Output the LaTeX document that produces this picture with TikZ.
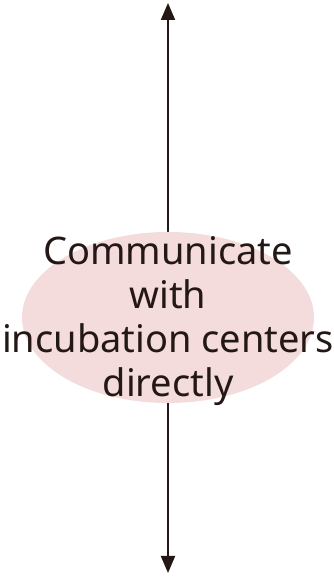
\documentclass[tikz,border=0pt]{standalone}
\usepackage{fontspec}
\setmainfont{Noto Sans}
\usepackage{tikz}
\usetikzlibrary{arrows.meta,shapes.geometric}
\definecolor{darkbrown}{HTML}{231815}
\definecolor{palepink}{HTML}{F4DCDC}

\begin{document}
\begin{tikzpicture}[x=1pt,y=1pt,
	axisline/.style={darkbrown,line width=2pt,{Triangle[width=14pt,length=17pt]}-{Triangle[width=14pt,length=17pt]}},
	blob/.style={ellipse,fill=palepink,minimum width=292pt,minimum height=171pt,inner sep=0pt},
	blobtext/.style={align=center,text=darkbrown,font=\fontsize{38}{44}\selectfont}]
	\useasboundingbox (0,0) rectangle (333,577);
	
	%%% Double arrow
	\coordinate (top) at (168,574);
	\coordinate (bottom) at (168,4);
	\draw[axisline] (top) -- (bottom);
	
	%%% Ellipse with text
	\node[blob] (oval) at (168,259.5) {};
	\node[blobtext] (label) at (168,256) {Communicate\\with\\incubation centers\\directly};
\end{tikzpicture}
\end{document}
